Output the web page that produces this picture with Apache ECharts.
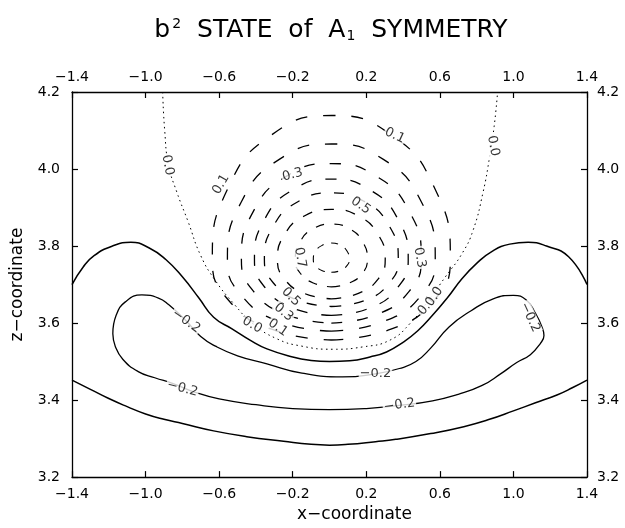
<!DOCTYPE html>
<html>
<head>
<meta charset="utf-8">
<title>b2 STATE of A1 SYMMETRY</title>
<script src="https://cdn.jsdelivr.net/npm/echarts@6/dist/echarts.min.js"></script>
<style>
html, body { margin: 0; padding: 0; background: #fff; }
#main { width: 625px; height: 528px; }
</style>
</head>
<body>
<div id="main"></div>
<script>
// tick labels
const xTicks = [-1.4, -1.0, -0.6, -0.2, 0.2, 0.6, 1.0, 1.4];
const zTicks = [3.2, 3.4, 3.6, 3.8, 4.0, 4.2];

// positive contours (dashed)
const c01 = [[0.010,3.556],[0.334,3.584],[0.570,3.660],[0.657,3.765],[0.570,3.952],[0.334,4.089],[0.010,4.139],[-0.314,4.089],[-0.550,3.952],[-0.637,3.765],[-0.550,3.660],[-0.314,3.584],[0.010,3.556]];
const c02 = [[0.010,3.579],[0.293,3.604],[0.499,3.672],[0.575,3.765],[0.499,3.915],[0.293,4.025],[0.010,4.065],[-0.273,4.025],[-0.479,3.915],[-0.555,3.765],[-0.479,3.672],[-0.273,3.604],[0.010,3.579]];
const c03 = [[0.010,3.600],[0.255,3.622],[0.434,3.683],[0.499,3.765],[0.434,3.890],[0.255,3.981],[0.010,4.014],[-0.235,3.981],[-0.414,3.890],[-0.479,3.765],[-0.414,3.683],[-0.235,3.622],[0.010,3.600]];
const c04 = [[0.010,3.620],[0.219,3.639],[0.372,3.693],[0.428,3.765],[0.372,3.870],[0.219,3.946],[0.010,3.974],[-0.199,3.946],[-0.352,3.870],[-0.408,3.765],[-0.352,3.693],[-0.199,3.639],[0.010,3.620]];
const c05 = [[0.010,3.643],[0.192,3.659],[0.325,3.704],[0.374,3.765],[0.325,3.852],[0.192,3.915],[0.010,3.938],[-0.172,3.915],[-0.305,3.852],[-0.354,3.765],[-0.305,3.704],[-0.172,3.659],[0.010,3.643]];
const c06 = [[0.010,3.663],[0.157,3.677],[0.264,3.714],[0.303,3.765],[0.264,3.830],[0.157,3.878],[0.010,3.895],[-0.137,3.878],[-0.244,3.830],[-0.283,3.765],[-0.244,3.714],[-0.137,3.677],[0.010,3.663]];
const c07 = [[0.010,3.694],[0.108,3.704],[0.180,3.730],[0.206,3.765],[0.180,3.811],[0.108,3.845],[0.010,3.857],[-0.088,3.845],[-0.160,3.811],[-0.186,3.765],[-0.160,3.730],[-0.088,3.704],[0.010,3.694]];
const c08 = [[0.010,3.732],[0.059,3.736],[0.095,3.749],[0.108,3.765],[0.095,3.787],[0.059,3.802],[0.010,3.808],[-0.039,3.802],[-0.075,3.787],[-0.088,3.765],[-0.075,3.749],[-0.039,3.736],[0.010,3.732]];

// zero contour (dotted)
const c00 = [[-0.907,4.2],[-0.896,4.10],[-0.875,4.01],[-0.83,3.94],[-0.77,3.865],[-0.70,3.775],[-0.62,3.71],[-0.52,3.65],[-0.42,3.60],[-0.29,3.56],[-0.15,3.54],[0.017,3.532],[0.18,3.538],[0.33,3.556],[0.44,3.60],[0.54,3.66],[0.63,3.72],[0.72,3.78],[0.78,3.84],[0.835,3.94],[0.87,4.03],[0.895,4.11],[0.914,4.2]];

// negative contours (solid)
const cm01Upper = [[-1.4,3.70],[-1.34,3.745],[-1.28,3.775],[-1.18,3.80],[-1.08,3.81],[-0.98,3.795],[-0.89,3.765],[-0.80,3.72],[-0.71,3.665],[-0.63,3.615],[-0.53,3.585],[-0.43,3.555],[-0.34,3.533],[-0.2,3.512],[-0.1,3.503],[0.0,3.50],[0.11,3.502],[0.22,3.512],[0.31,3.525],[0.40,3.55],[0.48,3.58],[0.56,3.62],[0.64,3.665],[0.72,3.715],[0.80,3.755],[0.88,3.785],[0.98,3.805],[1.08,3.81],[1.18,3.80],[1.30,3.772],[1.4,3.70]];
const cm01Lower = [[-1.4,3.452],[-1.3,3.428],[-1.2,3.404],[-1.1,3.383],[-1.0,3.364],[-0.9,3.35],[-0.8,3.339],[-0.63,3.32],[-0.45,3.305],[-0.25,3.293],[-0.1,3.285],[0.0,3.283],[0.1,3.285],[0.25,3.292],[0.36,3.298],[0.55,3.313],[0.73,3.331],[0.87,3.35],[1.0,3.372],[1.12,3.393],[1.24,3.414],[1.32,3.432],[1.4,3.452]];
const cm02 = [[-1.178,3.5725],[-1.16,3.62],[-1.11,3.655],[-1.02,3.673],[-0.93,3.665],[-0.875,3.648],[-0.78,3.606],[-0.70,3.565],[-0.62,3.54],[-0.5,3.515],[-0.34,3.494],[-0.15,3.47],[0.07,3.46],[0.25,3.468],[0.38,3.482],[0.47,3.50],[0.55,3.535],[0.65,3.59],[0.77,3.632],[0.89,3.663],[1.0,3.672],[1.07,3.66],[1.12,3.625],[1.155,3.59],[1.166,3.568],[1.147,3.5475],[1.092,3.518],[1.018,3.4975],[0.93,3.468],[0.83,3.438],[0.70,3.415],[0.56,3.398],[0.38,3.386],[0.2,3.378],[0.0,3.375],[-0.2,3.378],[-0.4,3.388],[-0.6,3.403],[-0.73,3.42],[-0.85,3.443],[-0.95,3.458],[-1.04,3.474],[-1.124,3.506],[-1.165,3.54],[-1.178,3.5725]];

// contour labels: [x, z, text]
const contourLabels = [
  [0.355, 4.087, '0.1'], [-0.59, 3.96, '0.1'], [-0.2, 3.985, '0.3'], [0.17, 3.905, '0.5'],
  [-0.16, 3.77, '0.7'], [0.49, 3.77, '0.3'], [-0.21, 3.668, '0.5'], [-0.25, 3.628, '0.3'],
  [-0.28, 3.588, '0.1'], [-0.42, 3.595, '0.0'], [0.53, 3.645, '0.1'], [0.57, 3.668, '0.0'],
  [-0.88, 4.01, '0.0'], [0.89, 4.06, '0.0'],
  [-0.78, 3.605, '−0.2'], [-0.80, 3.43, '−0.2'], [0.25, 3.468, '−0.2'], [0.38, 3.387, '−0.2'], [1.09, 3.615, '−0.2']
];
const labelAngles = [-25, 60, 15, -35, -80, -80, -45, -40, -35, -30, 50, 55, -80, -80, -35, -15, 0, 8, -65];

const fmt = v => (v < 0 ? '−' : '') + Math.abs(v).toFixed(1);
const FONT = 'DejaVu Sans';

function contour(data, type, width) {
  return {
    type: 'line', data: data, smooth: true, symbol: 'none', silent: true,
    lineStyle: { color: '#000', width: width, type: type }, z: 2
  };
}

function xAxisDef(pos) {
  return {
    type: 'value', position: pos, min: -1.4, max: 1.4,
    axisLine: { show: true, onZero: false, lineStyle: { color: '#000', width: 1.3 } },
    axisTick: { show: true, inside: true, length: 6, customValues: xTicks, lineStyle: { color: '#000', width: 1.2 } },
    axisLabel: { customValues: xTicks, formatter: fmt, color: '#000', fontSize: 14, fontFamily: FONT, margin: pos === 'top' ? 8 : 10 },
    splitLine: { show: false }
  };
}
function yAxisDef(pos) {
  return {
    type: 'value', position: pos, min: 3.2, max: 4.2,
    axisLine: { show: true, onZero: false, lineStyle: { color: '#000', width: 1.3 } },
    axisTick: { show: true, inside: true, length: 6, customValues: zTicks, lineStyle: { color: '#000', width: 1.2 } },
    axisLabel: { customValues: zTicks, formatter: fmt, color: '#000', fontSize: 14, fontFamily: FONT, margin: pos === 'left' ? 12 : 10 },
    splitLine: { show: false }
  };
}

const xBottom = xAxisDef('bottom');
xBottom.name = 'x−coordinate';
xBottom.nameLocation = 'middle';
xBottom.nameGap = 24;
xBottom.nameTextStyle = { color: '#000', fontSize: 17, fontFamily: FONT, padding: [0, 0, 0, 50] };
const yLeft = yAxisDef('left');
yLeft.name = 'z−coordinate';
yLeft.nameLocation = 'middle';
yLeft.nameGap = 46;
yLeft.nameTextStyle = { color: '#000', fontSize: 17, fontFamily: FONT };

const chart = echarts.init(document.getElementById('main'));
chart.setOption({
  animation: false,
  backgroundColor: '#fff',
  title: {
    text: '{a|b}{s|2}{a|  STATE  of  A}{u|1}{a|  SYMMETRY}',
    left: 326, top: 12, textAlign: 'center',
    textStyle: {
      fontWeight: 'normal',
      rich: {
        a: { fontSize: 25, fontFamily: FONT, fontWeight: 'normal', color: '#000' },
        s: { fontSize: 14, fontFamily: FONT, fontWeight: 'normal', color: '#000', padding: [0, 0, 13, 2] },
        u: { fontSize: 14, fontFamily: FONT, fontWeight: 'normal', color: '#000', padding: [11, 0, 0, 1] }
      }
    }
  },
  grid: { left: 72, right: 38, top: 92, bottom: 43 },
  xAxis: [xBottom, xAxisDef('top')],
  yAxis: [yLeft, yAxisDef('right')],
  series: [
    contour(c01, [12, 16], 1.3), contour(c02, [12, 16], 1.3), contour(c03, [11, 15], 1.3),
    contour(c04, [11, 14], 1.3), contour(c05, [10, 13], 1.3), contour(c06, [10, 12], 1.3),
    contour(c07, [9, 10], 1.2), contour(c08, [7, 8], 1.1),
    contour(c00, [1.5, 3.5], 1.0),
    contour(cm01Upper, 'solid', 1.5), contour(cm01Lower, 'solid', 1.5), contour(cm02, 'solid', 1.3),
    {
      type: 'scatter', symbolSize: 0, silent: true, z: 5,
      data: contourLabels.map((d, i) => ({
        value: [d[0], d[1]],
        label: { formatter: d[2], rotate: labelAngles[i] }
      })),
      label: {
        show: true, position: 'inside', color: '#000', fontSize: 13, fontFamily: FONT,
        backgroundColor: '#fff', padding: [0, 1]
      }
    }
  ]
});
</script>
</body>
</html>
